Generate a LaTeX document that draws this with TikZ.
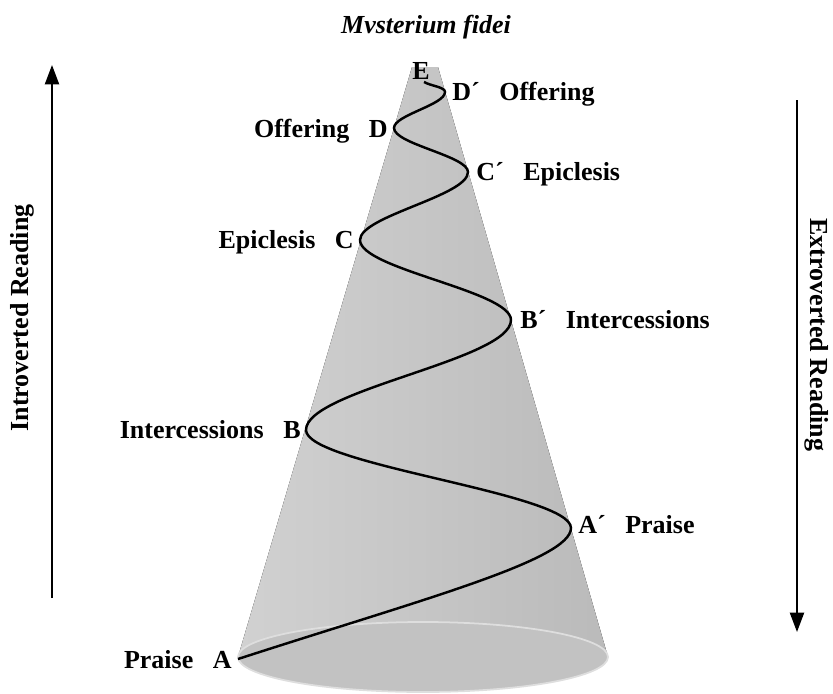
\documentclass[tikz,border=0pt]{standalone}
\usepackage{fontspec}
\setmainfont{Liberation Serif}
\usetikzlibrary{arrows.meta,calc}
\tikzset{
  lbl/.style={font=\fontsize{14.8}{17}\selectfont\bfseries,inner sep=0pt}
}
\newcommand{\wgap}{\hspace{0.75em}}
\begin{document}
\begin{tikzpicture}[x=0.02cm,y=-0.02cm,>={Triangle[length=11pt,width=8pt]}]
\useasboundingbox (0,0) rectangle (833,694);
% cone
\fill[left color=black!18,middle color=black!40,right color=black!27]
  (412,67)--(438,67)--(608,657)--(238,657)--cycle;
\filldraw[fill=black!24,draw=black!13,line width=1pt](423,657)ellipse[x radius=185,y radius=35];
% tips of the spiral
\coordinate (A) at (238,659);
\coordinate (Ap) at (571,528);
\coordinate (B) at (306,430);
\coordinate (Bp) at (511,320);
\coordinate (C) at (360,240);
\coordinate (Cp) at (468,172);
\coordinate (D) at (394,128);
\coordinate (Dp) at (445,92);
\coordinate (E) at (424,82);
\draw[line width=1.4pt](A)..controls(420,600)and(571,560)..(Ap)
  ..controls+(0,-35)and+(0,35)..(B)
  ..controls+(0,-40)and+(0,40)..(Bp)
  ..controls+(0,-29)and+(0,29)..(C)
  ..controls+(0,-24)and+(0,24)..(Cp)
  ..controls+(0,-16)and+(0,16)..(D)
  ..controls+(0,-13)and+(0,13)..(Dp)
  ..controls+(0,-5)and+(7,4)..(E);
% labels
\node[lbl,anchor=base east](lA)at($(A)+(-6,9)$){Praise\wgap A};
\node[lbl,anchor=base west](lAp)at($(Ap)+(7,5)$){A´\wgap Praise};
\node[lbl,anchor=base east](lB)at($(B)+(-5,8)$){Intercessions\wgap B};
\node[lbl,anchor=base west](lBp)at($(Bp)+(9,8)$){B´\wgap Intercessions};
\node[lbl,anchor=base east](lC)at($(C)+(-6,8)$){Epiclesis\wgap C};
\node[lbl,anchor=base west](lCp)at($(Cp)+(8,8)$){C´\wgap Epiclesis};
\node[lbl,anchor=base east](lD)at($(D)+(-6,9)$){Offering\wgap D};
\node[lbl,anchor=base west](lDp)at($(Dp)+(7,8)$){D´\wgap Offering};
\node[lbl,anchor=base](lE)at($(E)+(-3,-3)$){E};
\node[lbl,anchor=base,font=\fontsize{14.8}{17}\selectfont\bfseries\itshape](title)at(426,33){Mvsterium fidei};
% reading directions
\coordinate (inLow) at (52,598);
\coordinate (inHigh) at (52,65);
\coordinate (exHigh) at (797,100);
\coordinate (exLow) at (797,632);
\draw[->,line width=1.1pt](inLow)--(inHigh);
\draw[->,line width=1.1pt](exHigh)--(exLow);
\node[lbl,rotate=90](intro)at(22,318){Introverted Reading};
\node[lbl,rotate=-90](extro)at(817,335){Extroverted Reading};
\end{tikzpicture}
\end{document}
